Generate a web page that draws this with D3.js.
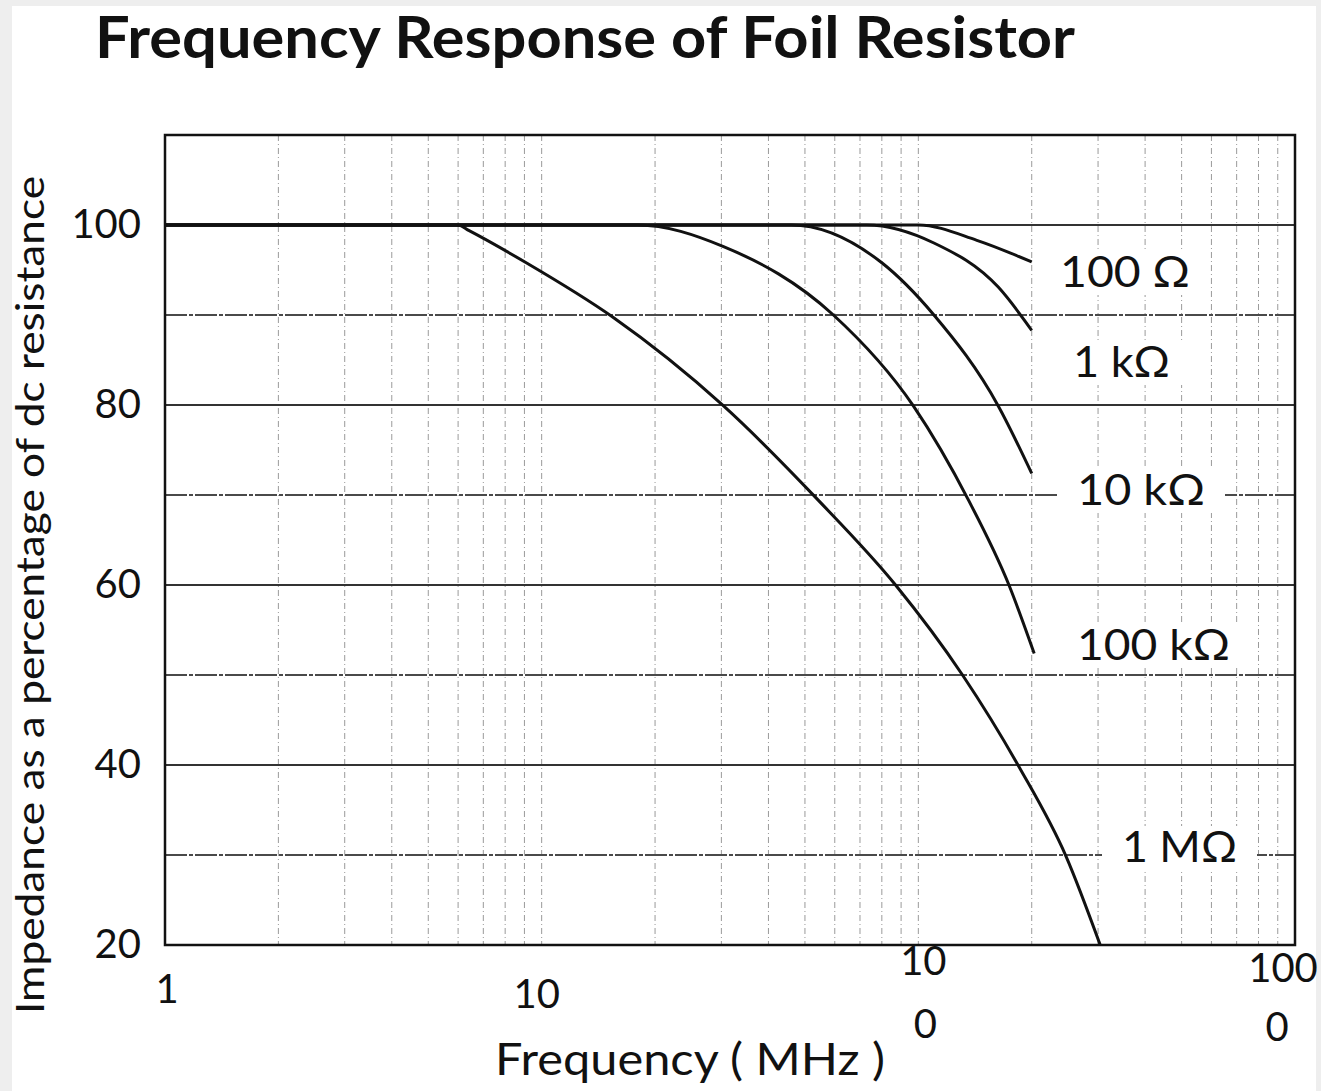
<!DOCTYPE html>
<html>
<head>
<meta charset="utf-8">
<script src="https://cdn.jsdelivr.net/npm/d3@7"></script>
<style>
  body { margin: 0; background: #eeeeee; }
  svg { display: block; }
  text { font-family: Lato, "Open Sans", sans-serif; fill: #111; }
</style>
</head>
<body>
<div id="chart"></div>
<script>
// axis ticks
var yTicks = [20, 40, 60, 80, 100];
var xTickValues = [1, 10, 100, 1000];
var xTickLines = [["1"], ["10"], ["10", "0"], ["100", "0"]];
var yGridValues = [30, 40, 50, 60, 70, 80, 90, 100];

// curves, [frequency MHz, % of dc resistance]
var curveNames = ["100 Ω", "1 kΩ", "10 kΩ", "100 kΩ", "1 MΩ"];
var r100 = [[1, 100], [100, 100], [143, 98.3], [200, 95.9]];
var r1k = [[1, 100], [73, 100], [110, 98], [163, 93.1], [200, 88.3]];
var r10k = [[1, 100], [46, 100], [80, 95.8], [110, 90], [163, 79.9], [200, 72.4]];
var r100k = [[1, 100], [18, 100], [30.4, 97.6], [59.5, 90], [97, 79.9], [136, 69.4], [174, 60], [203, 52.4]];
var r1M = [[1, 100], [6, 100], [6.4, 99.4], [9.1, 95.8], [15.4, 89.8], [30.4, 79.9], [54.3, 69.4], [87, 60], [131, 50], [185, 39.8], [247, 29.8], [304, 20]];
var curves = [r100, r1k, r10k, r100k, r1M];

var width = 1321, height = 1091;

var svg = d3.select("#chart").append("svg")
  .attr("width", width)
  .attr("height", height);

// paper
svg.append("rect")
  .attr("x", 12).attr("y", 6)
  .attr("width", 1304).attr("height", 1085)
  .attr("fill", "#fff");

var x = d3.scaleLog().domain([1, 1000]).range([165, 1295]);
var y = d3.scaleLinear().domain([20, 110]).range([945, 135]);

// vertical grid (log minor lines)
svg.append("g")
  .selectAll("line")
  .data(x.ticks().filter(d => d > 1 && d < 1000))
  .enter()
  .append("line")
  .attr("x1", d => x(d)).attr("x2", d => x(d))
  .attr("y1", y(110)).attr("y2", y(20))
  .attr("stroke", "#9a9a9a")
  .attr("stroke-width", 1)
  .attr("stroke-dasharray", "6,3,1,3");

// horizontal grid
svg.append("g")
  .selectAll("line")
  .data(yGridValues)
  .enter()
  .append("line")
  .attr("x1", x(1)).attr("x2", x(1000))
  .attr("y1", d => y(d)).attr("y2", d => y(d))
  .attr("stroke", d => d % 20 == 0 ? "#333" : "#4a4a4a")
  .attr("stroke-width", 1.8)
  .attr("stroke-dasharray", d => d % 20 == 0 ? null : "22,2,4,2");

// curves
var line = d3.line()
  .x(d => x(d[0]))
  .y(d => y(d[1]))
  .curve(d3.curveMonotoneX);

svg.append("g")
  .selectAll("path")
  .data(curves)
  .enter()
  .append("path")
  .attr("d", line)
  .attr("fill", "none")
  .attr("stroke", "#111")
  .attr("stroke-width", 3);

// plot frame
svg.append("rect")
  .attr("x", x(1)).attr("y", y(110))
  .attr("width", x(1000) - x(1)).attr("height", y(20) - y(110))
  .attr("fill", "none")
  .attr("stroke", "#111")
  .attr("stroke-width", 2.5);

// curve labels with white boxes over the grid
var labelPos = [[1060, 287, 130], [1073, 377, 97], [1077, 505, 128], [1077, 660, 153], [1122, 862, 115]];
var labels = svg.append("g")
  .selectAll("g")
  .data(curveNames)
  .enter()
  .append("g");

labels.append("rect")
  .attr("x", (d, i) => labelPos[i][0] - 20)
  .attr("y", (d, i) => labelPos[i][1] - 36)
  .attr("width", (d, i) => labelPos[i][2] + 40)
  .attr("height", 44)
  .attr("fill", "#fff");

labels.append("text")
  .attr("x", (d, i) => labelPos[i][0])
  .attr("y", (d, i) => labelPos[i][1])
  .attr("textLength", (d, i) => labelPos[i][2])
  .attr("lengthAdjust", "spacingAndGlyphs")
  .style("font-size", "42px")
  .text(d => d);

// y axis tick labels
var yAxis = d3.axisLeft(y)
  .tickValues(yTicks)
  .tickSize(0)
  .tickPadding(24);

svg.append("g")
  .attr("transform", `translate(${x(1)},0)`)
  .call(yAxis)
  .call(g => g.select(".domain").remove())
  .selectAll("text")
  .style("font-size", "40px")
  .style("font-family", "Lato, sans-serif")
  .attr("fill", "#111");

// x axis tick labels (scanned layout keeps "10|0" and "100|0" split)
var xTickDx = [2, -5, 5, -12];
var xTickY = [[1003], [1008], [975, 1038], [982, 1041]];
var xTickLineDx = [[0], [0], [0, 2], [0, -6]];
var xt = svg.append("g")
  .selectAll("text")
  .data(xTickValues)
  .enter()
  .append("text")
  .attr("text-anchor", "middle")
  .style("font-size", "40px");

xt.each(function (d, i) {
  var t = d3.select(this);
  xTickLines[i].forEach((s, j) => {
    t.append("tspan")
      .attr("x", x(d) + xTickDx[i] + xTickLineDx[i][j])
      .attr("y", xTickY[i][j])
      .text(s);
  });
});

// titles
svg.append("text")
  .attr("x", 95)
  .attr("y", 58)
  .attr("textLength", 980)
  .attr("lengthAdjust", "spacingAndGlyphs")
  .style("font-size", "58px")
  .style("font-weight", "bold")
  .text("Frequency Response of Foil Resistor");

svg.append("text")
  .attr("x", 495)
  .attr("y", 1075)
  .attr("textLength", 390)
  .attr("lengthAdjust", "spacingAndGlyphs")
  .style("font-size", "44px")
  .text("Frequency ( MHz )");

svg.append("text")
  .attr("transform", "translate(44,1014) rotate(-90)")
  .attr("textLength", 838)
  .attr("lengthAdjust", "spacingAndGlyphs")
  .style("font-size", "38px")
  .text("Impedance as a percentage of dc resistance");
</script>
</body>
</html>
